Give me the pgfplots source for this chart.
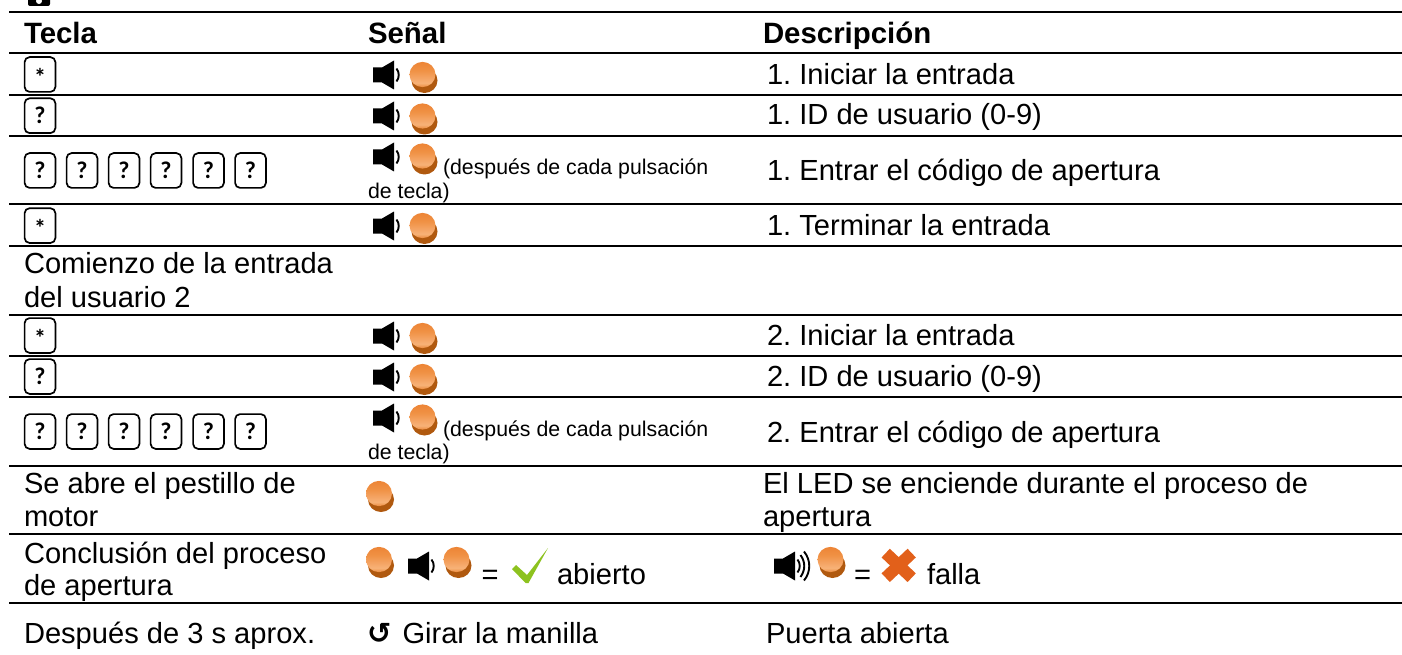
\documentclass[border=0pt]{standalone}
\usepackage{fontspec}
\setmainfont{Liberation Sans}
\newfontfamily\dejavu{DejaVu Sans}
\newfontfamily\keyfont{Carlito}
\usepackage{pgfplots}
\pgfplotsset{compat=1.18}
\frenchspacing
\definecolor{leddark}{HTML}{B0590F}
\definecolor{chk}{HTML}{8DC21F}
\definecolor{crs}{HTML}{E2601A}
\pgfdeclareverticalshading{ledshade}{100bp}{
  rgb(0bp)=(0.92,0.54,0.24); rgb(25bp)=(0.92,0.54,0.24); rgb(33bp)=(0.97,0.70,0.47); rgb(42bp)=(0.96,0.65,0.40); rgb(58bp)=(0.94,0.57,0.27); rgb(75bp)=(0.93,0.52,0.21); rgb(100bp)=(0.93,0.52,0.21)}
\pgfdeclareplotmark{keybox}{%
  \pgfsetlinewidth{1.7pt}\pgfsetroundcap\pgfsetcornersarced{\pgfqpoint{5pt}{5pt}}%
  \pgfpathrectanglecorners{\pgfqpoint{-15.4pt}{-17.4pt}}{\pgfqpoint{15.4pt}{17.4pt}}%
  \pgfusepath{stroke}}
\pgfdeclareplotmark{led}{%
  \pgfsetfillcolor{leddark}\pgfpathellipse{\pgfqpoint{2pt}{-6pt}}{\pgfqpoint{13pt}{0pt}}{\pgfqpoint{0pt}{12.5pt}}\pgfusepath{fill}%
  \pgfpathellipse{\pgfqpoint{0pt}{0pt}}{\pgfqpoint{13pt}{0pt}}{\pgfqpoint{0pt}{12.6pt}}\pgfshadepath{ledshade}{0}\pgfusepath{discard}}
\newcommand\spkbody{%
  \pgfsetfillcolor{black}%
  \pgfpathmoveto{\pgfqpoint{0pt}{7.5pt}}\pgfpathlineto{\pgfqpoint{9pt}{7.5pt}}\pgfpathlineto{\pgfqpoint{21pt}{14.5pt}}%
  \pgfpathlineto{\pgfqpoint{21pt}{-14.5pt}}\pgfpathlineto{\pgfqpoint{9pt}{-7.5pt}}\pgfpathlineto{\pgfqpoint{0pt}{-7.5pt}}\pgfpathclose\pgfusepath{fill}%
  \pgfsetlinewidth{1.9pt}%
  \pgfpathmoveto{\pgfqpoint{23.5pt}{6.5pt}}\pgfpathcurveto{\pgfqpoint{26.5pt}{2.5pt}}{\pgfqpoint{26.5pt}{-2.5pt}}{\pgfqpoint{23.5pt}{-6.5pt}}\pgfusepath{stroke}}
\pgfdeclareplotmark{spk}{\spkbody}
\pgfdeclareplotmark{spkloud}{\spkbody
  \pgfpathmoveto{\pgfqpoint{26.5pt}{11pt}}\pgfpathcurveto{\pgfqpoint{31.5pt}{4pt}}{\pgfqpoint{31.5pt}{-4pt}}{\pgfqpoint{26.5pt}{-11pt}}\pgfusepath{stroke}%
  \pgfpathmoveto{\pgfqpoint{30pt}{14.5pt}}\pgfpathcurveto{\pgfqpoint{37pt}{6pt}}{\pgfqpoint{37pt}{-6pt}}{\pgfqpoint{30pt}{-14.5pt}}\pgfusepath{stroke}}
\pgfdeclareplotmark{chkm}{%
  \pgfsetfillcolor{chk}%
  \pgfpathmoveto{\pgfqpoint{0pt}{0pt}}\pgfpathlineto{\pgfqpoint{4pt}{4pt}}\pgfpathlineto{\pgfqpoint{15pt}{-6pt}}%
  \pgfpathlineto{\pgfqpoint{36pt}{21pt}}\pgfpathlineto{\pgfqpoint{16.5pt}{-14pt}}\pgfpathlineto{\pgfqpoint{13.5pt}{-14pt}}\pgfpathclose\pgfusepath{fill}}
\pgfdeclareplotmark{crsm}{%
  \pgfsetstrokecolor{crs}\pgfsetlinewidth{12pt}%
  \pgfpathmoveto{\pgfqpoint{-13pt}{-12.3pt}}\pgfpathlineto{\pgfqpoint{13pt}{12.3pt}}\pgfusepath{stroke}%
  \pgfpathmoveto{\pgfqpoint{-13pt}{12.3pt}}\pgfpathlineto{\pgfqpoint{13pt}{-12.3pt}}\pgfusepath{stroke}}
\pgfdeclareplotmark{cam}{%
  \pgfsetfillcolor{black}\pgfsetcornersarced{\pgfqpoint{2pt}{2pt}}%
  \pgfpathrectanglecorners{\pgfqpoint{-11pt}{-6pt}}{\pgfqpoint{11pt}{6pt}}\pgfusepath{fill}%
  \pgfsetfillcolor{white}\pgfpathcircle{\pgfqpoint{0pt}{-1pt}}{3pt}\pgfusepath{fill}}
\tikzset{
  t/.style={anchor=base west,inner sep=0pt,outer sep=0pt,font=\fontsize{29.1}{34}\selectfont},
  b/.style={t,font=\fontsize{29.4}{34}\selectfont\bfseries},
  s/.style={t,font=\fontsize{21.3}{26}\selectfont},
  k/.style={inner sep=0pt,outer sep=0pt,font=\fontsize{24}{24}\selectfont\keyfont\bfseries}
}
\pgfplotsset{
  mk/.style={only marks,mark=#1,forget plot,black},
  rule/.style={black,line width=2pt,forget plot,no markers}
}
\begin{document}
\begin{tikzpicture}
\path[use as bounding box] (0,0) rectangle (1402pt,655pt);
\begin{axis}[scale only axis,width=1402pt,height=655pt,xmin=0,xmax=1402,ymin=0,ymax=655,
  y dir=reverse,hide axis,clip=false]
% table rules
\addplot[rule] coordinates {(9,12)(1402,12)};
\addplot[rule] coordinates {(9,53.5)(1402,53.5)};
\addplot[rule] coordinates {(9,95)(1402,95)};
\addplot[rule] coordinates {(9,136)(1402,136)};
\addplot[rule] coordinates {(9,204.5)(1402,204.5)};
\addplot[rule] coordinates {(9,245.5)(1402,245.5)};
\addplot[rule] coordinates {(9,314.5)(1402,314.5)};
\addplot[rule] coordinates {(9,355.5)(1402,355.5)};
\addplot[rule] coordinates {(9,396.5)(1402,396.5)};
\addplot[rule] coordinates {(9,465.5)(1402,465.5)};
\addplot[rule] coordinates {(9,534)(1402,534)};
\addplot[rule] coordinates {(9,603)(1402,603)};
% icons
\addplot[mk=cam] coordinates {(39,0)};
\addplot[mk=keybox] coordinates {(40,74.5)(40,115.7)(40,170.5)(82,170.5)(124,170.5)(166,170.5)(208.5,170.5)(250.5,170.5)(40,225.6)(40,335.5)(40,376.5)(40,431.5)(82,431.5)(124,431.5)(166,431.5)(208.5,431.5)(250.5,431.5)};
\addplot[mk=spk] coordinates {(373,75)(373,116)(373,157)(373,226)(373,336)(373,377)(373,418)(408,566)};
\addplot[mk=spkloud] coordinates {(774,566)};
\addplot[mk=led] coordinates {(422.5,74.5)(422.5,116)(422.5,156)(422.5,225.5)(422.5,335.5)(422.5,376.5)(422.5,417)(379,493.5)(379,559.5)(456.5,559.5)(830.5,559.5)};
\addplot[mk=chkm] coordinates {(512,569)};
\addplot[mk=crsm] coordinates {(898.7,565.4)};
% key glyphs
\node[k] at (axis cs:40,76.5) {*};
\node[k] at (axis cs:40,227.6) {*};
\node[k] at (axis cs:40,337.5) {*};
\node[k] at (axis cs:40,115.7) {?};
\node[k] at (axis cs:40,170.5) {?};
\node[k] at (axis cs:82,170.5) {?};
\node[k] at (axis cs:124,170.5) {?};
\node[k] at (axis cs:166,170.5) {?};
\node[k] at (axis cs:208.5,170.5) {?};
\node[k] at (axis cs:250.5,170.5) {?};
\node[k] at (axis cs:40,376.5) {?};
\node[k] at (axis cs:40,431.5) {?};
\node[k] at (axis cs:82,431.5) {?};
\node[k] at (axis cs:124,431.5) {?};
\node[k] at (axis cs:166,431.5) {?};
\node[k] at (axis cs:208.5,431.5) {?};
\node[k] at (axis cs:250.5,431.5) {?};
% header
\node[b] at (axis cs:24,43.5) {Tecla};
\node[b] at (axis cs:368,43.5) {Señal};
\node[b] at (axis cs:763,43.5) {Descripción};
% descriptions
\node[t] at (axis cs:767,84.5) {1. Iniciar la entrada};
\node[t] at (axis cs:767,125) {1. ID de usuario (0-9)};
\node[t] at (axis cs:767,181) {1. Entrar el código de apertura};
\node[t] at (axis cs:767,235) {1. Terminar la entrada};
\node[t] at (axis cs:767,345.5) {2. Iniciar la entrada};
\node[t] at (axis cs:767,386) {2. ID de usuario (0-9)};
\node[t] at (axis cs:767,442) {2. Entrar el código de apertura};
\node[t] at (axis cs:763,493) {El LED se enciende durante el proceso de};
\node[t] at (axis cs:763,526) {apertura};
\node[t] at (axis cs:24,273) {Comienzo de la entrada};
\node[t] at (axis cs:24,307) {del usuario 2};
\node[t] at (axis cs:24,493) {Se abre el pestillo de};
\node[t] at (axis cs:24,526) {motor};
\node[t] at (axis cs:24,563) {Conclusión del proceso};
\node[t] at (axis cs:24,595) {de apertura};
\node[t] at (axis cs:24,643) {Después de 3 s aprox.};
% notes
\node[s] at (axis cs:443,175) {(después de cada pulsación};
\node[s] at (axis cs:368,198) {de tecla)};
\node[s] at (axis cs:443,436) {(después de cada pulsación};
\node[s] at (axis cs:368,459) {de tecla)};
% result row
\node[t] at (axis cs:481.5,584) {=};
\node[t] at (axis cs:557,584) {abierto};
\node[t] at (axis cs:854,584) {=};
\node[t] at (axis cs:927,584) {falla};
\node[t] at (axis cs:367,643) {{\dejavu\bfseries ↺}};
\node[t] at (axis cs:402.5,643) {Girar la manilla};
\node[t] at (axis cs:766,643) {Puerta abierta};
\end{axis}
\end{tikzpicture}
\end{document}
